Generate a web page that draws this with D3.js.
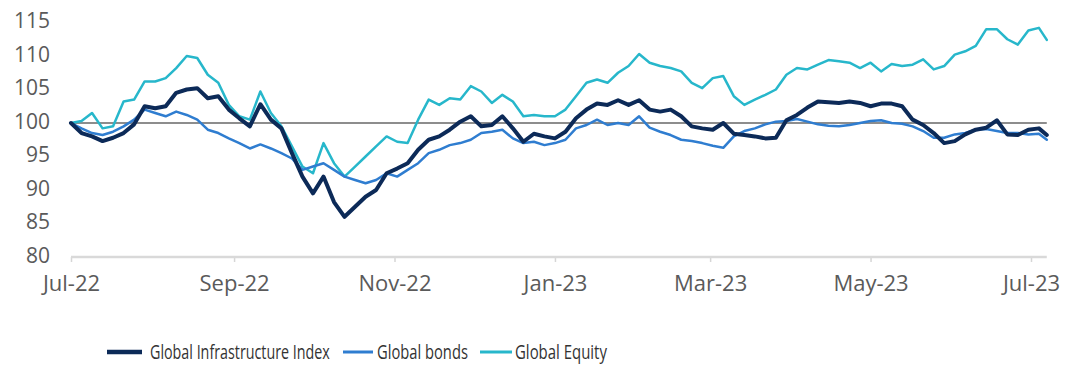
<!DOCTYPE html>
<html>
<head>
<meta charset="utf-8">
<script src="https://cdn.jsdelivr.net/npm/d3@7"></script>
<style>
  html, body { margin: 0; padding: 0; background: #ffffff; }
  svg { display: block; }
</style>
</head>
<body>
<svg id="chart" width="1067" height="366"></svg>
<script>
// Observation dates (every 4 days, Jul-22 to early Jul-23)
const dates = [
  "2022-07-01","2022-07-05","2022-07-09","2022-07-13","2022-07-17","2022-07-21","2022-07-25","2022-07-29",
  "2022-08-02","2022-08-06","2022-08-10","2022-08-14","2022-08-18","2022-08-22","2022-08-26","2022-08-30",
  "2022-09-03","2022-09-07","2022-09-11","2022-09-15","2022-09-19","2022-09-23","2022-09-27","2022-10-01",
  "2022-10-05","2022-10-09","2022-10-13","2022-10-17","2022-10-21","2022-10-25","2022-10-29","2022-11-02",
  "2022-11-06","2022-11-10","2022-11-14","2022-11-18","2022-11-22","2022-11-26","2022-11-30","2022-12-04",
  "2022-12-08","2022-12-12","2022-12-16","2022-12-20","2022-12-24","2022-12-28","2023-01-01","2023-01-05",
  "2023-01-09","2023-01-13","2023-01-17","2023-01-21","2023-01-25","2023-01-29","2023-02-02","2023-02-06",
  "2023-02-10","2023-02-14","2023-02-18","2023-02-22","2023-02-26","2023-03-02","2023-03-06","2023-03-10",
  "2023-03-14","2023-03-18","2023-03-22","2023-03-26","2023-03-30","2023-04-03","2023-04-07","2023-04-11",
  "2023-04-15","2023-04-19","2023-04-23","2023-04-27","2023-05-01","2023-05-05","2023-05-09","2023-05-13",
  "2023-05-17","2023-05-21","2023-05-25","2023-05-29","2023-06-02","2023-06-06","2023-06-10","2023-06-14",
  "2023-06-18","2023-06-22","2023-06-26","2023-06-30","2023-07-04","2023-07-07"
];

// Rebased index levels (start = 100)
const infra = [
  100, 98.5, 98, 97.3, 97.8, 98.5, 99.8, 102.5, 102.2, 102.5, 104.5, 105, 105.2, 103.7, 104, 102,
  100.7, 99.5, 102.8, 100.5, 99.2, 95.5, 92, 89.5, 92, 88.2, 86, 87.5, 89, 90, 92.5, 93.2,
  94, 96, 97.5, 98, 99, 100.2, 101, 99.5, 99.7, 101, 99.2, 97.2, 98.4, 98, 97.7, 98.7,
  100.7, 102, 102.9, 102.7, 103.4, 102.7, 103.4, 102, 101.7, 102, 101, 99.5, 99.2, 99,
  100, 98.4, 98.2, 98, 97.7, 97.8, 100.4, 101.2, 102.3, 103.2, 103.1, 103, 103.2, 103,
  102.5, 102.9, 102.9, 102.5, 100.5, 99.7, 98.5, 97, 97.3, 98.3, 99, 99.3, 100.4, 98.3,
  98.2, 99, 99.2, 98.2
];

const bonds = [
  100, 99.2, 98.5, 98.2, 98.7, 99.5, 100.5, 102, 101.5, 101, 101.7, 101.2, 100.5, 99, 98.5, 97.7,
  97, 96.2, 96.8, 96.2, 95.5, 94.7, 93, 93.5, 94, 93, 92, 91.5, 91, 91.5, 92.5, 92,
  93, 94, 95.5, 96, 96.7, 97, 97.5, 98.5, 98.7, 99, 97.7, 97, 97.2, 96.7, 97, 97.5,
  99.2, 99.7, 100.5, 99.7, 100, 99.7, 101, 99.3, 98.7, 98.2, 97.5, 97.3, 97, 96.6,
  96.3, 98, 98.8, 99.2, 99.8, 100.2, 100.3, 100.6, 100.2, 99.8, 99.6, 99.5, 99.7, 100,
  100.3, 100.4, 100, 99.9, 99.5, 98.8, 97.8, 97.8, 98.3, 98.5, 99, 99.1, 98.8, 98.5,
  98.5, 98.3, 98.4, 97.5
];

const equity = [
  100, 100.3, 101.5, 99.2, 99.5, 103.2, 103.5, 106.2, 106.2, 106.7, 108.2, 110, 109.7, 107.2, 106, 102.7,
  101, 100.5, 104.7, 101.5, 99.5, 96.5, 93.5, 92.5, 97, 94, 92, 93.5, 95, 96.5, 98, 97.2,
  97, 100.5, 103.5, 102.7, 103.7, 103.5, 105.5, 104.7, 103, 104.2, 103.2, 101, 101.2, 101, 101, 102,
  104, 106, 106.5, 106, 107.5, 108.5, 110.3, 109, 108.5, 108.2, 107.7, 106, 105.2, 106.7,
  107, 104, 102.7, 103.5, 104.2, 105, 107.2, 108.2, 108, 108.7, 109.4, 109.2, 109, 108.2,
  109, 107.7, 108.8, 108.5, 108.7, 109.5, 108, 108.5, 110.2, 110.7, 111.5, 114, 114, 112.5,
  111.7, 113.8, 114.2, 112.4
];

const seriesNames = ["Global Infrastructure Index", "Global bonds", "Global Equity"];
const seriesColors = ["#0c2a58", "#2f7dd0", "#27b7cb"];
const seriesWidths = [4, 2.5, 2.5];

const yTicks = [80, 85, 90, 95, 100, 105, 110, 115];
const xTickDates = ["2022-07-01","2022-09-01","2022-11-01","2023-01-01","2023-03-01","2023-05-01","2023-07-01"];
const xTickLabels = ["Jul-22","Sep-22","Nov-22","Jan-23","Mar-23","May-23","Jul-23"];
const baseline = 100;

const parse = d3.timeParse("%Y-%m-%d");
const dateObjs = dates.map(parse);
const tickDateObjs = xTickDates.map(parse);

const svg = d3.select("#chart");

const x = d3.scaleTime()
  .domain([parse("2022-07-01"), parse("2023-07-01")])
  .range([71, 1031]);

const y = d3.scaleLinear()
  .domain([80, 115])
  .range([257, 22.5]);

const tickFont = "'Open Sans', 'Noto Sans', sans-serif";

// Y axis labels (no axis line)
const yAxis = d3.axisLeft(y).tickValues(yTicks).tickSize(0).tickPadding(0);
const yg = svg.append("g").attr("transform", "translate(50,0)").call(yAxis);
yg.select(".domain").remove();
yg.selectAll("text")
  .attr("fill", "#5a5a5a")
  .attr("dy", "0.25em")
  .style("font-family", tickFont)
  .style("font-size", "21px");

// X axis: light baseline across the data span, short ticks, month labels
const xAxis = d3.axisBottom(x)
  .tickValues(tickDateObjs)
  .tickFormat((d, i) => xTickLabels[i])
  .tickSize(5)
  .tickPadding(13);
const xg = svg.append("g").attr("transform", `translate(0,${y(80)})`).call(xAxis);
xg.select(".domain").remove();
xg.selectAll(".tick line").attr("stroke", "#d6d6d6").attr("stroke-width", 1.5);
xg.selectAll("text")
  .attr("fill", "#5a5a5a")
  .style("font-family", tickFont)
  .style("font-size", "22px");
xg.append("line")
  .attr("x1", x(dateObjs[0]))
  .attr("x2", x(dateObjs[dateObjs.length - 1]))
  .attr("y1", 0).attr("y2", 0)
  .attr("stroke", "#d9d9d9")
  .attr("stroke-width", 2.5);

// Reference line at 100
svg.append("line")
  .attr("x1", x(dateObjs[0]))
  .attr("x2", x(dateObjs[dateObjs.length - 1]))
  .attr("y1", y(baseline)).attr("y2", y(baseline))
  .attr("stroke", "#8d8d8d")
  .attr("stroke-width", 2);

// Series lines (equity first, infrastructure on top)
const line = d3.line()
  .x((d, i) => x(dateObjs[i]))
  .y(d => y(d));

const seriesData = [infra, bonds, equity];
[2, 1, 0].forEach(k => {
  svg.append("path")
    .datum(seriesData[k])
    .attr("fill", "none")
    .attr("stroke", seriesColors[k])
    .attr("stroke-width", seriesWidths[k])
    .attr("stroke-linejoin", "round")
    .attr("stroke-linecap", "round")
    .attr("d", line);
});

// Legend: swatch line + condensed label
const legendY = 352;
const legendItems = [
  { x1: 107, x2: 142, tx: 150, w: 180 },
  { x1: 343, x2: 373, tx: 377, w: 91 },
  { x1: 480, x2: 512, tx: 515, w: 92 }
];
const lg = svg.append("g");
legendItems.forEach((it, k) => {
  lg.append("line")
    .attr("x1", it.x1).attr("x2", it.x2)
    .attr("y1", legendY).attr("y2", legendY)
    .attr("stroke", seriesColors[k])
    .attr("stroke-width", k === 0 ? 4.5 : 3);
  const g = lg.append("g").attr("transform", `translate(${it.tx},${legendY + 7})`);
  const t = g.append("text")
    .attr("x", 0)
    .attr("y", 0)
    .attr("fill", "#333333")
    .style("font-family", "'Open Sans', 'Noto Sans', sans-serif")
    .style("font-size", "20px")
    .text(seriesNames[k]);
  const natural = t.node().getComputedTextLength();
  t.attr("transform", `scale(${it.w / natural},1)`);
});
</script>
</body>
</html>
